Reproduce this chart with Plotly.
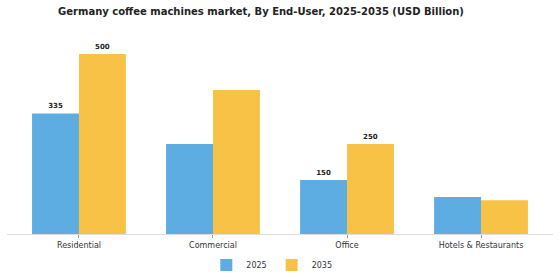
import plotly.graph_objects as go

categories = ["Residential", "Commercial", "Office", "Hotels & Restaurants"]
values_2025 = [335, 250, 150, 103]
values_2035 = [500, 400, 250, 94]
labels_2025 = ["<b>335</b>", "", "<b>150</b>", ""]
labels_2035 = ["<b>500</b>", "", "<b>250</b>", ""]

blue = "#5DADE2"
yellow = "#F8C247"

fig = go.Figure()
fig.add_trace(go.Bar(x=categories, y=values_2025, name="2025", marker_color=blue,
                     marker_line_width=0, text=labels_2025, textposition="outside",
                     textfont=dict(family="DejaVu Sans", size=7, color="#222"),
                     cliponaxis=False))
fig.add_trace(go.Bar(x=categories, y=values_2035, name="2035", marker_color=yellow,
                     marker_line_width=0, text=labels_2035, textposition="outside",
                     textfont=dict(family="DejaVu Sans", size=7, color="#222"),
                     cliponaxis=False))

fig.update_layout(
    width=560, height=280,
    margin=dict(l=7, r=7, t=30, b=46, autoexpand=False),
    paper_bgcolor="white", plot_bgcolor="white",
    barmode="group", bargap=0.3, bargroupgap=0,
    font=dict(family="DejaVu Sans", size=8, color="#333"),
    title=dict(text="<b>Germany coffee machines market, By End-User, 2025-2035 (USD Billion)</b>",
               x=261/560, xanchor="center", y=1 - 11/280, yanchor="middle",
               font=dict(family="DejaVu Sans", size=10, color="#222")),
    xaxis=dict(range=[-0.537, 3.537], showline=True, linecolor="#ddd", linewidth=1,
               ticks="outside", ticklen=3, tickcolor="#999", showgrid=False,
               tickfont=dict(size=8, color="#333")),
    yaxis=dict(range=[0, 567], visible=False, showgrid=False),
    legend=dict(orientation="h", x=0.485, xanchor="center", yref="container",
                y=15/280, yanchor="middle",
                font=dict(size=8, color="#333"), itemwidth=30),
    showlegend=True,
)

fig.write_html("out.html")
